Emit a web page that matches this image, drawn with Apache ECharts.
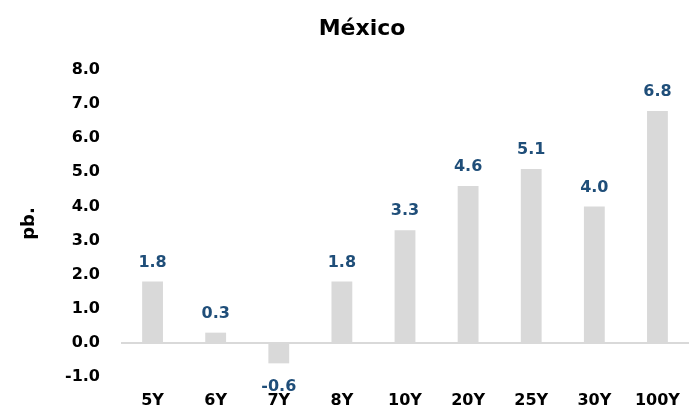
<!DOCTYPE html>
<html>
<head>
<meta charset="utf-8">
<script src="https://cdn.jsdelivr.net/npm/echarts@6/dist/echarts.min.js"></script>
<style>
  html, body { margin: 0; padding: 0; background: #fff; }
  #chart { width: 689px; height: 418px; }
</style>
</head>
<body>
<div id="chart"></div>
<script>
var plazos = ['5Y', '6Y', '7Y', '8Y', '10Y', '20Y', '25Y', '30Y', '100Y'];
var valores = [1.8, 0.3, -0.6, 1.8, 3.3, 4.6, 5.1, 4.0, 6.8];
var FONT = 'DejaVu Sans';

var chart = echarts.init(document.getElementById('chart'), null, { renderer: 'canvas' });

// negative bars get their label underneath
var datos = valores.map(function (v) {
  return v < 0 ? { value: v, label: { position: 'bottom', distance: 15 } } : v;
});

chart.setOption({
  animation: false,
  title: {
    text: 'México',
    left: 357,
    textAlign: 'center',
    top: 13,
    textStyle: { fontFamily: FONT, fontWeight: 'bold', fontSize: 22, color: '#000' }
  },
  grid: { left: 121, right: 0, top: 70, bottom: 41 },
  xAxis: {
    type: 'category',
    data: plazos,
    axisLine: { show: false, onZero: false },
    axisTick: { show: false },
    axisLabel: { margin: 16, color: '#000', fontFamily: FONT, fontWeight: 'bold', fontSize: 16 }
  },
  yAxis: {
    type: 'value',
    min: -1, max: 8, interval: 1,
    name: 'pb.',
    nameLocation: 'middle',
    nameGap: 83,
    nameTextStyle: { fontFamily: FONT, fontWeight: 'bold', fontSize: 18, color: '#000' },
    splitLine: { show: false },
    axisLine: { show: false },
    axisTick: { show: false },
    axisLabel: {
      margin: 21, color: '#000', fontFamily: FONT, fontWeight: 'bold', fontSize: 16,
      formatter: function (v) { return v.toFixed(1); }
    }
  },
  series: [{
    type: 'bar',
    data: datos,
    barWidth: '33%',
    itemStyle: { color: '#D9D9D9' },
    label: {
      show: true, position: 'top', distance: 11,
      color: '#1F4E79', fontFamily: FONT, fontWeight: 'bold', fontSize: 16,
      formatter: function (p) { return p.value.toFixed(1); }
    },
    markLine: {
      silent: true,
      symbol: 'none',
      label: { show: false },
      lineStyle: { color: '#D9D9D9', width: 2, type: 'solid' },
      data: [{ yAxis: 0 }]
    }
  }]
});
</script>
</body>
</html>
